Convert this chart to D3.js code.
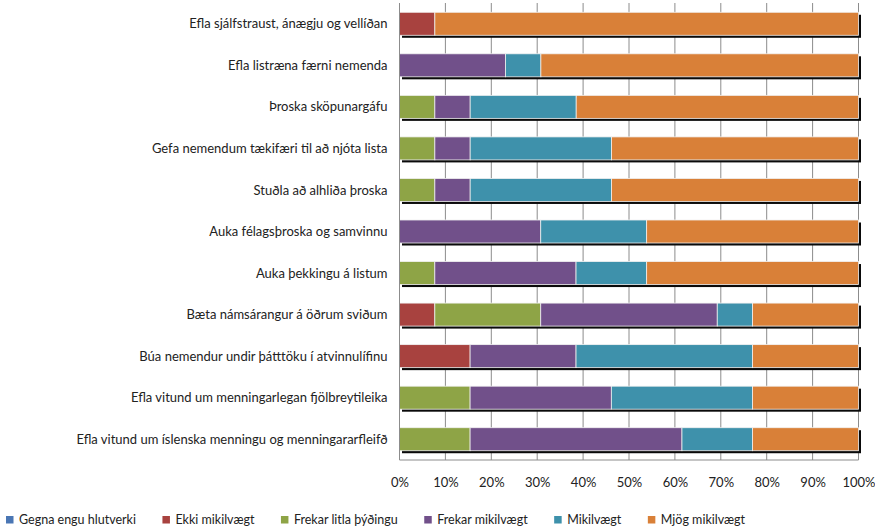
<!DOCTYPE html>
<html>
<head>
<meta charset="utf-8">
<script src="https://cdn.jsdelivr.net/npm/d3@7"></script>
<style>
  body { margin: 0; background: #fff; }
  text { font-family: Lato, "Open Sans", sans-serif; fill: #222; }
</style>
</head>
<body>
<svg id="chart"></svg>
<script>
// categories, top to bottom
const categories = [
    "Efla sjálfstraust, ánægju og vellíðan",
    "Efla listræna færni nemenda",
    "Þroska sköpunargáfu",
    "Gefa nemendum tækifæri til að njóta lista",
    "Stuðla að alhliða þroska",
    "Auka félagsþroska og samvinnu",
    "Auka þekkingu á listum",
    "Bæta námsárangur á öðrum sviðum",
    "Búa nemendur undir þátttöku í atvinnulífinu",
    "Efla vitund um menningarlegan fjölbreytileika",
    "Efla vitund um íslenska menningu og menningararfleifð"
];

const seriesNames = ["Gegna engu hlutverki", "Ekki mikilvægt", "Frekar litla þýðingu",
                     "Frekar mikilvægt", "Mikilvægt", "Mjög mikilvægt"];
const seriesColors = ["#4a76b4", "#a8423f", "#8ea446", "#71508a", "#3e91ab", "#d98038"];

// percent per category (same order as categories)
const gegnaEngu       = [0, 0, 0, 0, 0, 0, 0, 0, 0, 0, 0];
const ekkiMikilvaegt  = [7.7, 0, 0, 0, 0, 0, 0, 7.7, 15.4, 0, 0];
const frekarLitla     = [0, 0, 7.7, 7.7, 7.7, 0, 7.7, 23.1, 0, 15.4, 15.4];
const frekarMikilv    = [0, 23.1, 7.7, 7.7, 7.7, 30.8, 30.8, 38.5, 23.1, 30.8, 46.2];
const mikilvaegt      = [0, 7.7, 23.1, 30.8, 30.8, 23.1, 15.4, 7.7, 38.5, 30.8, 15.4];
const mjogMikilv      = [92.3, 69.2, 61.5, 53.8, 53.8, 46.2, 46.2, 23.1, 23.1, 23.1, 23.1];

const xTicks = [0, 0.1, 0.2, 0.3, 0.4, 0.5, 0.6, 0.7, 0.8, 0.9, 1];

const svgWidth = 875, svgHeight = 531;
const plot = { left: 399.5, right: 858.5, top: 3, bottom: 460 };

const svg = d3.select("#chart")
    .attr("width", svgWidth)
    .attr("height", svgHeight);

const seriesValues = [gegnaEngu, ekkiMikilvaegt, frekarLitla, frekarMikilv, mikilvaegt, mjogMikilv];
const rows = categories.map((c, i) => {
    const r = { category: c };
    seriesNames.forEach((s, j) => { r[s] = seriesValues[j][i]; });
    return r;
});

const stacked = d3.stack()
    .keys(seriesNames)
    .offset(d3.stackOffsetExpand)(rows);

const x = d3.scaleLinear().domain([0, 1]).range([plot.left, plot.right]);
const y = d3.scaleBand()
    .domain(categories)
    .range([plot.top, plot.bottom])
    .paddingInner(0.446)
    .paddingOuter(0.223);

const color = d3.scaleOrdinal().domain(seriesNames).range(seriesColors);

// vertical gridlines
svg.append("g")
    .selectAll("line")
    .data(xTicks.slice(1))
    .join("line")
    .attr("x1", d => x(d)).attr("x2", d => x(d))
    .attr("y1", plot.top).attr("y2", plot.bottom)
    .attr("stroke", "#8c8c8c")
    .attr("stroke-width", 1);

// bar shadows
const off = 2.5;
svg.append("g")
    .selectAll("rect")
    .data(categories)
    .join("rect")
    .attr("x", x(0) + off)
    .attr("y", d => y(d) + off)
    .attr("width", x(1) - x(0))
    .attr("height", y.bandwidth())
    .attr("fill", "#0a0a0a");

// stacked segments
svg.append("g")
    .selectAll("g")
    .data(stacked)
    .join("g")
    .attr("fill", d => color(d.key))
    .selectAll("rect")
    .data(d => d.filter(s => s[1] - s[0] > 0))
    .join("rect")
    .attr("x", d => x(d[0]))
    .attr("y", d => y(d.data.category))
    .attr("width", d => x(d[1]) - x(d[0]))
    .attr("height", y.bandwidth())
    .attr("stroke", "#f2f2f2")
    .attr("stroke-width", 0.8);

// axes
svg.append("line")
    .attr("x1", plot.left).attr("x2", plot.left)
    .attr("y1", plot.top).attr("y2", plot.bottom)
    .attr("stroke", "#8c8c8c");
svg.append("line")
    .attr("x1", plot.left).attr("x2", plot.right)
    .attr("y1", plot.bottom).attr("y2", plot.bottom)
    .attr("stroke", "#8c8c8c");

const xAxis = svg.append("g")
    .attr("transform", `translate(0, ${plot.bottom})`)
    .call(d3.axisBottom(x).tickValues(xTicks).tickFormat(d3.format(".0%")).tickSize(0).tickPadding(18));
xAxis.select(".domain").remove();
xAxis.selectAll("text")
    .style("font-family", "Lato, 'Open Sans', sans-serif")
    .style("font-size", "13px")
    .attr("fill", "#222");

// category labels
svg.append("g")
    .selectAll("text")
    .data(categories)
    .join("text")
    .attr("x", plot.left - 12)
    .attr("y", d => y(d) + y.bandwidth() / 2)
    .attr("dy", "0.35em")
    .attr("text-anchor", "end")
    .style("font-size", "13px")
    .text(d => d);

// legend
const legend = svg.append("g").attr("transform", "translate(6, 520)");
let lx = 0;
seriesNames.forEach((name, i) => {
    const item = legend.append("g").attr("transform", `translate(${lx}, 0)`);
    item.append("rect")
        .attr("x", 0).attr("y", -4)
        .attr("width", 7.5).attr("height", 7.5)
        .attr("fill", seriesColors[i]);
    const t = item.append("text")
        .attr("x", 13)
        .attr("dy", "0.35em")
        .style("font-size", "12.5px")
        .text(name);
    lx += 13 + t.node().getComputedTextLength() + 26.5;
});
</script>
</body>
</html>
